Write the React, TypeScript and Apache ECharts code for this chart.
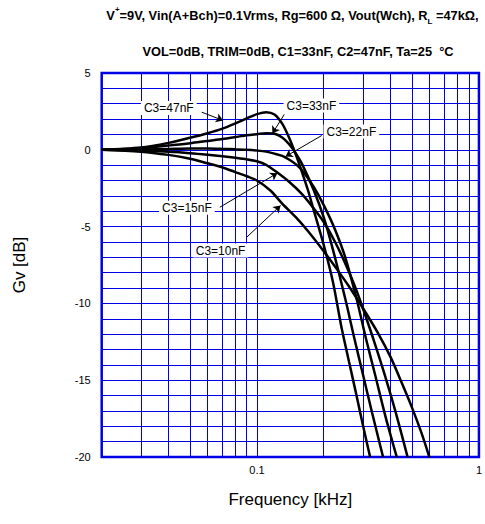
import React, { useEffect, useRef } from 'react';
import * as echarts from 'echarts';

// Frequency [kHz], gain [dB]
const C3_47NF: [number, number][] = [
  [0.02, 0], [0.03, 0.15], [0.04, 0.45], [0.05, 0.78], [0.06, 1.08], [0.07, 1.38],
  [0.08, 1.72], [0.09, 2.05], [0.1, 2.32], [0.11, 2.45], [0.12, 2.3], [0.13, 1.7],
  [0.14, 0.75], [0.15, -0.35], [0.16, -1.5], [0.17, -2.65], [0.18, -3.9], [0.2, -6.2],
  [0.22, -8.6], [0.24, -11.5], [0.26, -13.8], [0.28, -15.9], [0.3, -17.9], [0.3235, -20],
];
const C3_33NF: [number, number][] = [
  [0.02, 0], [0.03, 0.1], [0.04, 0.28], [0.05, 0.43], [0.06, 0.58], [0.07, 0.7],
  [0.08, 0.83], [0.09, 0.95], [0.1, 1.02], [0.11, 1.08], [0.12, 1.05], [0.13, 0.8],
  [0.14, 0.35], [0.15, -0.25], [0.16, -0.95], [0.18, -2.6], [0.2, -4.4], [0.22, -6.5],
  [0.25, -9.7], [0.275, -12.3], [0.3, -14.6], [0.33, -17.1], [0.37, -20],
];
const C3_22NF: [number, number][] = [
  [0.02, 0], [0.03, 0.02], [0.04, 0.05], [0.05, 0.08], [0.06, 0.08], [0.07, 0.06],
  [0.08, 0.03], [0.09, 0], [0.1, -0.05], [0.11, -0.12], [0.12, -0.25], [0.13, -0.4],
  [0.14, -0.65], [0.15, -0.95], [0.16, -1.35], [0.18, -2.4], [0.2, -3.6], [0.225, -5.2],
  [0.25, -7.0], [0.28, -9.6], [0.31, -12.3], [0.34, -14.6], [0.38, -17.4], [0.4265, -20],
];
const C3_15NF: [number, number][] = [
  [0.02, 0], [0.03, -0.05], [0.04, -0.13], [0.05, -0.22], [0.06, -0.32], [0.07, -0.42],
  [0.08, -0.52], [0.09, -0.62], [0.1, -0.75], [0.11, -0.98], [0.124, -1.5], [0.14, -2.1],
  [0.16, -2.9], [0.18, -3.8], [0.2, -4.7], [0.225, -6.0], [0.25, -7.4], [0.28, -9.1],
  [0.31, -10.9], [0.336, -12.4], [0.37, -14.3], [0.42, -17.0], [0.477, -20],
];
const C3_10NF: [number, number][] = [
  [0.02, 0], [0.03, -0.12], [0.04, -0.33], [0.05, -0.58], [0.06, -0.88], [0.07, -1.15],
  [0.08, -1.45], [0.09, -1.72], [0.1, -2.0], [0.115, -2.65], [0.13, -3.5], [0.15, -4.4],
  [0.17, -5.3], [0.2, -6.6], [0.23, -7.8], [0.26, -8.9], [0.3, -10.3], [0.35, -11.9],
  [0.4, -13.5], [0.45, -15.2], [0.5, -16.8], [0.55, -18.4], [0.598, -20],
];

const SERIES_NAMES = ['C3=47nF', 'C3=33nF', 'C3=22nF', 'C3=15nF', 'C3=10nF'];
const SERIES_DATA = [C3_47NF, C3_33NF, C3_22NF, C3_15NF, C3_10NF];

// label anchor [f, dB], arrow start [f, dB], arrow tip [f, dB]
const LABEL_POS: [number, number][] = [[0.0401, 2.72], [0.176, 2.88], [0.2663, 1.19], [0.0484, -3.78], [0.0686, -6.56]];
const ARROW_FROM: [number, number][] = [[0.0564, 2.45], [0.1328, 2.3], [0.1959, 0.93], [0.0681, -3.74], [0.09, -5.69]];
const ARROW_TO: [number, number][] = [[0.0704, 1.91], [0.1174, 1.06], [0.1346, -0.44], [0.1236, -1.52], [0.1278, -3.63]];

const FREQ_GRID = [0.03, 0.04, 0.05, 0.06, 0.07, 0.08, 0.09, 0.1, 0.2, 0.3, 0.4, 0.5, 0.6, 0.7, 0.8, 0.9];
const X_TICK_LABELS = [0.1, 1];
const Y_MIN = -20;
const Y_MAX = 5;
const Y_LABEL_STEP = 5;

const FONT = '"Liberation Sans", Arial, Helvetica, sans-serif';
const BLUE = '#0000e6';

export default function App() {
  const ref = useRef<HTMLDivElement>(null);
  useEffect(() => {
    const chart = echarts.init(ref.current!, null, { renderer: 'svg' });
    const curves = SERIES_DATA.map((d, i) => ({
      name: SERIES_NAMES[i],
      type: 'line',
      data: d,
      showSymbol: false,
      symbol: 'none',
      smooth: 0.3,
      z: 5,
      lineStyle: { color: '#000', width: 2.5 },
      markLine: {
        silent: true,
        symbol: ['none', 'arrow'],
        symbolSize: 7,
        lineStyle: { color: '#000', width: 1, type: 'solid' },
        label: { show: false },
        data: [[{ coord: ARROW_FROM[i] }, { coord: ARROW_TO[i] }]],
      },
      markPoint: {
        silent: true,
        symbol: 'circle',
        symbolSize: 0,
        label: {
          show: true,
          position: 'inside',
          formatter: SERIES_NAMES[i],
          color: '#000',
          fontSize: 12,
          fontFamily: FONT,
          backgroundColor: '#fff',
          padding: [1, 3],
        },
        data: [{ coord: LABEL_POS[i] }],
      },
    }));
    chart.setOption({
      animation: false,
      backgroundColor: '#fff',
      textStyle: { fontFamily: FONT },
      grid: {
        left: 101.7, right: 1, top: 73, bottom: 67,
        show: true, borderColor: BLUE, borderWidth: 2.5, backgroundColor: 'transparent',
      },
      xAxis: {
        type: 'log', logBase: 10, min: 0.02, max: 1,
        name: 'Frequency [kHz]', nameLocation: 'middle', nameGap: 34,
        nameTextStyle: { fontSize: 17, color: '#000', fontFamily: FONT },
        axisLine: { show: false }, axisTick: { show: false }, splitLine: { show: false },
        axisLabel: {
          margin: 7, fontSize: 11, color: '#000', fontFamily: FONT,
          showMinLabel: true, showMaxLabel: true,
          formatter: (v: number) => {
            const m = X_TICK_LABELS.find((t) => Math.abs(v - t) < 1e-6);
            return m !== undefined ? String(m) : '';
          },
        },
      },
      yAxis: {
        type: 'value', min: Y_MIN, max: Y_MAX, interval: 1,
        name: 'Gv [dB]', nameLocation: 'middle', nameGap: 74,
        nameTextStyle: { fontSize: 17, color: '#000', fontFamily: FONT },
        axisLine: { show: false }, axisTick: { show: false },
        splitLine: { show: true, lineStyle: { color: BLUE, width: 1 } },
        axisLabel: {
          margin: 11, fontSize: 11, color: '#000', fontFamily: FONT,
          formatter: (v: number) => (Math.round(v) % Y_LABEL_STEP === 0 ? String(Math.round(v)) : ''),
        },
      },
      graphic: [
        {
          type: 'text', x: 292.5, y: 15, silent: true,
          style: {
            text: '{b|V}{sup|+}{b|=9V, Vin(A+Bch)=0.1Vrms, Rg=600 Ω, Vout(Wch), R}{sub|L}{b| =47kΩ,}',
            align: 'center', verticalAlign: 'middle', textAlign: 'center', textVerticalAlign: 'middle',
            rich: {
              b: { fontSize: 12.8, fontWeight: 'bold', fontFamily: FONT, lineHeight: 20, fill: '#000', color: '#000' },
              sup: { fontSize: 8, fontWeight: 'bold', fontFamily: FONT, lineHeight: 11, verticalAlign: 'top', fill: '#000', color: '#000' },
              sub: { fontSize: 8, fontWeight: 'bold', fontFamily: FONT, lineHeight: 9, verticalAlign: 'bottom', fill: '#000', color: '#000' },
            },
          },
        },
        {
          type: 'text', x: 298, y: 51, silent: true,
          style: {
            text: 'VOL=0dB, TRIM=0dB, C1=33nF, C2=47nF, Ta=25  °C',
            font: `bold 12.8px ${FONT}`,
            align: 'center', verticalAlign: 'middle', textAlign: 'center', textVerticalAlign: 'middle',
            fill: '#000',
          },
        },
      ],
      series: [
        {
          name: 'grid',
          type: 'line',
          data: [],
          z: 1,
          markLine: {
            silent: true,
            symbol: ['none', 'none'],
            lineStyle: { color: BLUE, width: 1, type: 'solid' },
            label: { show: false },
            data: FREQ_GRID.map((f) => ({ xAxis: f })),
          },
        },
        ...curves,
      ],
    });
    return () => chart.dispose();
  }, []);
  return <div ref={ref} style={{ position: 'fixed', left: 0, top: 0, width: 485, height: 524 }} />;
}
